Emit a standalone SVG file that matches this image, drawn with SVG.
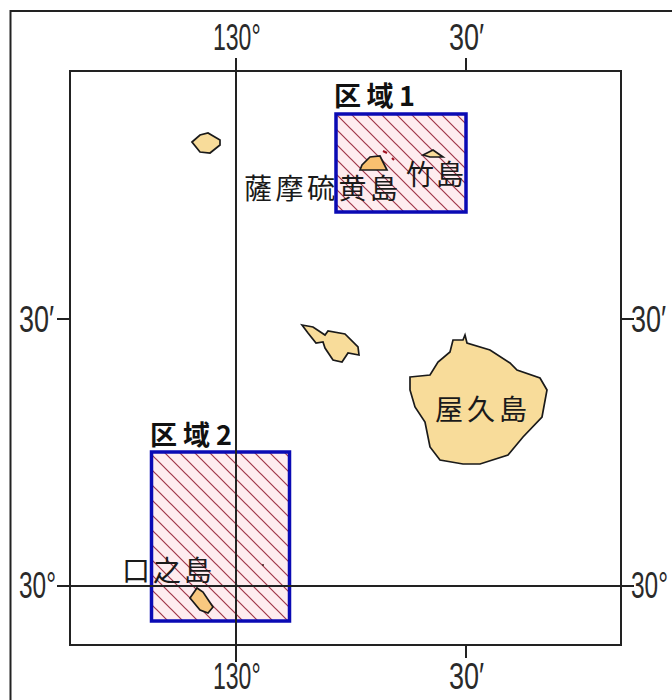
<svg xmlns="http://www.w3.org/2000/svg" width="672" height="700" viewBox="0 0 672 700">
<style>
.ln{stroke:#222;stroke-width:2;fill:none}
.isl{fill:#f8dc9a;stroke:#1a1a1a;stroke-width:1.700;stroke-linejoin:miter}
.box{fill:url(#h);stroke:#0a0ab4;stroke-width:3.500}
.deg{font-family:"Liberation Sans",sans-serif;font-size:36px;fill:#2a2a2a}
.jp{font-family:"Noto Sans CJK JP",sans-serif;font-size:28px;font-weight:400;fill:#1a1a1a}
.rg{font-family:"Noto Sans CJK JP",sans-serif;font-size:27px;font-weight:700;fill:#111}
</style>
<defs>
<pattern id="h" width="15" height="15" patternUnits="userSpaceOnUse" patternTransform="translate(336 114)">
<rect width="15" height="15" fill="#feecef"/>
<path d="M-4-4L19 19M-4 11L4 19M11-4L19 4" stroke="#a03548" stroke-width="1.200"/>
</pattern>
</defs>
<rect width="672" height="700" fill="#fff"/>
<g id="frame">
<path class="ln" d="M672 11H10.500V700"/>
<rect class="ln" x="70" y="71" width="551" height="574"/>
</g>
<g id="region-1">
<rect class="box" x="336" y="114" width="130" height="98"/>
<text class="rg" x="334" y="106" textLength="81">区域1</text>
</g>
<g id="region-2">
<rect class="box" x="151.500" y="452" width="138" height="169"/>
<text class="rg" x="150" y="445" textLength="82">区域2</text>
</g>
<g id="grid">
<path class="ln" d="M236 58V662M57 586H634M466 58V71M466 645V658M57 319H70M621 319H634"/>
</g>
<g id="island-kuroshima"><path class="isl" d="M192 142L200 135L208 133L220 140L220 145L210 153L200 152Z"/></g>
<g id="island-kuchinoerabu"><path class="isl" d="M302 325L313 327L325 335L328 331L345 334L358 347L359 355L348 353L342 362L333 360L325 348L323 342L316 343L308 333Z"/></g>
<g id="island-yakushima">
<path class="isl" d="M410 377L430 375L438 362L450 352L453 340L463 340L465 335L467 343L490 350L510 363L517 370L540 378L547 390L542 417L523 437L508 455L480 464L463 464L440 460L430 447L425 422L415 407L410 390Z"/>
<text class="jp" x="435" y="420" textLength="92">屋久島</text>
</g>
<g id="island-satsuma-iwojima">
<path class="isl" d="M360 170L362 165L370 157L380 156L387 170L377 170Z" style="fill:#f8c070"/>
<path d="M383 151L387 153M392 158L394 160" stroke="#a01020" stroke-width="2"/>
<text class="jp" x="244" y="199" textLength="154">薩摩硫黄島</text>
</g>
<g id="island-takeshima">
<path class="isl" d="M423 155L433 150L443 157L430 157Z"/>
<text class="jp" x="406" y="185" textLength="58">竹島</text>
</g>
<g id="island-kuchinoshima">
<path class="isl" d="M190 598L197 588L203 592L213 607L208 613L200 610Z" style="fill:#f8c880"/>
<circle cx="263" cy="565" r="1" fill="#402020"/>
<text class="jp" x="122" y="581" textLength="90">口之島</text>
</g>
<g id="labels">
<text class="deg" transform="translate(213 50) scale(.64 1)">130°</text>
<text class="deg" transform="translate(449 50) scale(.75 1)">30′</text>
<text class="deg" transform="translate(213 689) scale(.64 1)">130°</text>
<text class="deg" transform="translate(449 689) scale(.75 1)">30′</text>
<text class="deg" transform="translate(19 332) scale(.75 1)">30′</text>
<text class="deg" transform="translate(631 332) scale(.75 1)">30′</text>
<text class="deg" transform="translate(19 598) scale(.68 1)">30°</text>
<text class="deg" transform="translate(631 598) scale(.68 1)">30°</text>
</g>
</svg>
